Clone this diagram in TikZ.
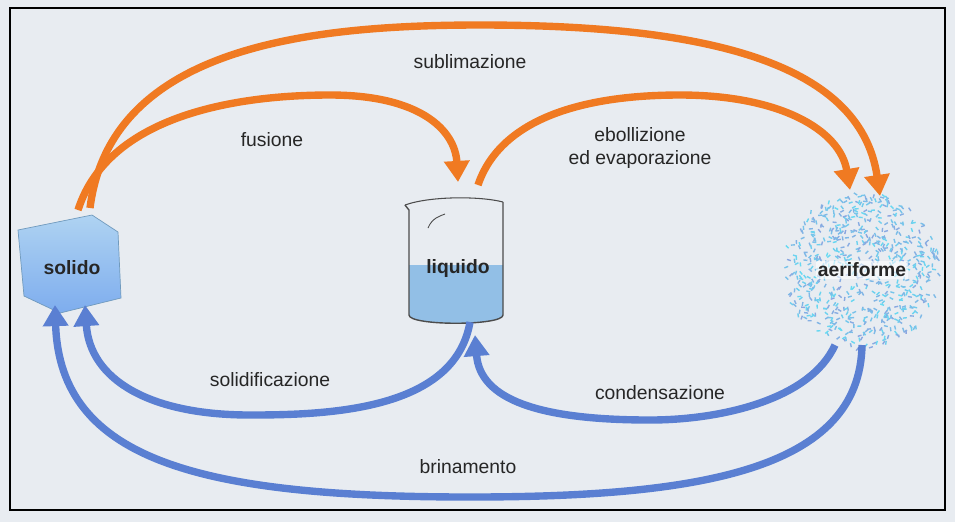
\documentclass[tikz,border=0pt]{standalone}
\usepackage{fontspec}
\setmainfont{Liberation Sans}
\usetikzlibrary{arrows.meta,calc}
\definecolor{bg}{HTML}{E8ECF1}
\definecolor{org}{HTML}{F07A22}
\definecolor{blu}{HTML}{5A7FD2}
\definecolor{ice}{HTML}{8CC0EC}
\definecolor{liq}{HTML}{7FB4E2}
\tikzset{
 orarrow/.style={draw=org,line width=4.2pt,-{Triangle[length=12pt,width=14pt]}},
 blarrow/.style={draw=blu,line width=4.2pt,-{Triangle[length=12pt,width=14pt]}},
 lab/.style={font=\fontsize{11pt}{13pt}\selectfont,text=black!85,align=center},
 obj/.style={font=\bfseries\fontsize{11pt}{13pt}\selectfont,text=black!85}
}
\begin{document}
\begin{tikzpicture}[x=0.02cm,y=-0.02cm]
\useasboundingbox (0,0) rectangle (955,522);
\fill[bg] (0,0) rectangle (955,522);
\draw[black,line width=0.8pt] (10,8) rectangle (945,510);
% solid
\shade[top color=ice!70!white,bottom color=ice!90!blue,draw=ice!80!black,line width=0.4pt]
 (18,230) -- (92,215) -- (118,232) -- (121,298) -- (60,313) -- (24,296) -- cycle;
\node[obj] (solido) at (72,268) {solido};
% beaker
\fill[liq!85!white] (409,265) -- (503,265) -- (503,315) to[out=-90,in=-90,looseness=0.3] (409,315) -- cycle;
\draw[gray!60!black,line width=0.8pt] (405,205) -- (409,210) -- (409,315) to[out=-90,in=-90,looseness=0.3] (503,315) -- (503,202);
\draw[gray!60!black,line width=0.6pt] (405,205) .. controls (430,196) and (480,196) .. (503,202);
\draw[gray!60!black,line width=0.5pt] (428,228) .. controls (432,218) and (440,216) .. (445,214);
\node[obj] (liquido) at (458,268) {liquido};
% aeriform
\pgfmathsetseed{7}
\foreach \i in {1,...,650}{
 \pgfmathsetmacro{\r}{78*sqrt(rnd)}
 \pgfmathsetmacro{\t}{360*rnd}
 \pgfmathsetmacro{\a}{360*rnd}
 \pgfmathsetmacro{\c}{40+60*rnd}
 \draw[blu!\c!cyan!70!white,line width=0.8pt]
  ($(862,270)+(\t:\r)$) -- ++(\a:4);
}
\node[obj,fill=white,fill opacity=0.6,text opacity=1,inner sep=1pt] (aer) at (862,270) {aeriforme};
% anchor points
\coordinate (s1) at (90,208); \coordinate (s2) at (78,210);
\coordinate (l1) at (458,182); \coordinate (l2) at (478,185);
\coordinate (a1) at (880,196); \coordinate (a2) at (850,190);
\coordinate (lb) at (470,322); \coordinate (lt) at (475,335);
\coordinate (sb1) at (85,305); \coordinate (sb2) at (55,305);
\coordinate (ab1) at (835,345); \coordinate (ab2) at (862,345);
% orange
\draw[orarrow] (s1) .. controls (110,50) and (300,25) .. (480,25) .. controls (700,25) and (860,60) .. (a1);
\draw[orarrow] (s2) .. controls (110,110) and (250,95) .. (330,95) .. controls (420,95) and (455,130) .. (l1);
\draw[orarrow] (l2) .. controls (500,120) and (580,95) .. (680,95) .. controls (780,95) and (840,130) .. (a2);
% blue
\draw[blarrow] (lb) .. controls (455,410) and (330,415) .. (250,415) .. controls (150,415) and (90,380) .. (sb1);
\draw[blarrow] (ab1) .. controls (810,400) and (720,420) .. (650,420) .. controls (540,420) and (480,400) .. (lt);
\draw[blarrow] (ab2) .. controls (860,470) and (700,497) .. (470,497) .. controls (200,497) and (60,460) .. (sb2);
% labels
\node[lab] (tsub) at (470,62) {sublimazione};
\node[lab] (tfus) at (272,140) {fusione};
\node[lab] (tebo) at (640,148) {ebollizione\\ed evaporazione};
\node[lab] (tsol) at (270,380) {solidificazione};
\node[lab] (tcon) at (660,393) {condensazione};
\node[lab] (tbri) at (468,467) {brinamento};
\end{tikzpicture}
\end{document}
